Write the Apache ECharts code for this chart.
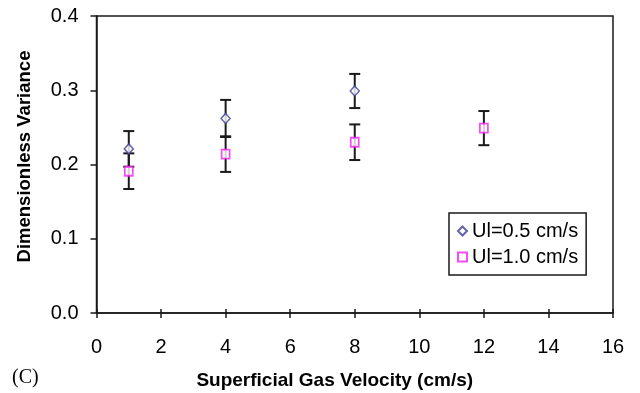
<!DOCTYPE html>
<html>
<head>
<meta charset="utf-8">
<script src="https://cdn.jsdelivr.net/npm/echarts@6/dist/echarts.min.js"></script>
<style>
  html, body { margin: 0; padding: 0; background: #fff; }
  #chart { width: 640px; height: 393px; }
</style>
</head>
<body>
<div id="chart"></div>
<script>
// Dimensionless variance vs superficial gas velocity, two liquid velocities
const seriesNames = ['Ul=0.5 cm/s', 'Ul=1.0 cm/s'];

const velocityLow = [1, 4, 8];
const varianceLow = [0.221, 0.262, 0.299];
const errorLow = [0.024, 0.025, 0.023];

const velocityHigh = [1, 4, 8, 12];
const varianceHigh = [0.191, 0.214, 0.230, 0.249];
const errorHigh = [0.024, 0.024, 0.024, 0.023];

const yTickLabels = ['0.0', '0.1', '0.2', '0.3', '0.4'];

const FONT = '"Liberation Sans", Arial, sans-serif';
const INK = '#1a1a1a';

const chart = echarts.init(document.getElementById('chart'), null, { renderer: 'canvas' });

function points(xs, ys, errs) {
  return xs.map((x, i) => errs ? [x, ys[i], errs[i]] : [x, ys[i]]);
}

// vertical error bar with short caps at both ends
function errorBar(params, api) {
  const x = api.value(0), y = api.value(1), e = api.value(2);
  const top = api.coord([x, y + e]);
  const bot = api.coord([x, y - e]);
  const hw = 5.5;
  const style = { stroke: INK, lineWidth: 2 };
  return {
    type: 'group',
    children: [
      { type: 'line', shape: { x1: top[0], y1: top[1], x2: bot[0], y2: bot[1] }, style },
      { type: 'line', shape: { x1: top[0] - hw, y1: top[1], x2: top[0] + hw, y2: top[1] }, style },
      { type: 'line', shape: { x1: bot[0] - hw, y1: bot[1], x2: bot[0] + hw, y2: bot[1] }, style }
    ]
  };
}

const xBase = { type: 'value', min: 0, max: 16, interval: 2, splitLine: { show: false } };

chart.setOption({
  animation: false,
  backgroundColor: '#fff',
  grid: {
    left: 96.5, right: 27, top: 16, bottom: 80,
    outerBoundsMode: 'none',
    containLabel: false,
    show: true, borderColor: INK, borderWidth: 1.5, backgroundColor: 'transparent'
  },
  xAxis: [
    Object.assign({}, xBase, {
      name: 'Superficial Gas Velocity (cm/s)',
      nameLocation: 'middle',
      nameGap: 58,
      nameTextStyle: {
        fontFamily: FONT, fontSize: 19, fontWeight: 'bold', color: '#000',
        padding: [0, 40, 0, 0]
      },
      axisLine: { show: true, lineStyle: { color: INK, width: 1.5 } },
      axisTick: { show: true, inside: false, length: 5, lineStyle: { color: INK, width: 1.5 } },
      axisLabel: { fontFamily: FONT, fontSize: 20, color: '#000', margin: 24 }
    }),
    Object.assign({}, xBase, {
      position: 'bottom',
      axisLine: { show: false },
      axisTick: { show: true, inside: true, length: 4, lineStyle: { color: INK, width: 1.5 } },
      axisLabel: { show: false }
    })
  ],
  yAxis: {
    type: 'value', min: 0, max: 0.4, interval: 0.1,
    name: 'Dimensionless Variance',
    nameLocation: 'middle',
    nameGap: 62,
    nameTextStyle: {
      fontFamily: FONT, fontSize: 18.5, fontWeight: 'bold', color: '#000',
      padding: [0, 0, 0, 16]
    },
    splitLine: { show: false },
    axisLine: { show: true, lineStyle: { color: INK, width: 1.5 } },
    axisTick: { show: true, inside: false, length: 6, lineStyle: { color: INK, width: 1.5 } },
    axisLabel: {
      fontFamily: FONT, fontSize: 20, color: '#000', margin: 18,
      formatter: (v) => yTickLabels[Math.round(v * 10)]
    }
  },
  legend: {
    data: seriesNames,
    orient: 'vertical',
    left: 449, top: 213,
    padding: [8, 8, 8, 8],
    itemGap: 6,
    itemWidth: 9, itemHeight: 9,
    borderColor: INK, borderWidth: 1.5,
    backgroundColor: '#fff',
    textStyle: { fontFamily: FONT, fontSize: 20, color: '#000' }
  },
  graphic: [
    {
      type: 'text', left: 12, top: 368,
      style: { text: '(C)', fontFamily: '"Liberation Serif", "Times New Roman", serif', fontSize: 20, fill: '#000' }
    }
  ],
  series: [
    {
      type: 'custom', name: 'err-low', renderItem: errorBar, z: 2,
      data: points(velocityLow, varianceLow, errorLow)
    },
    {
      type: 'custom', name: 'err-high', renderItem: errorBar, z: 2,
      data: points(velocityHigh, varianceHigh, errorHigh)
    },
    {
      type: 'scatter', name: seriesNames[0], symbol: 'diamond', symbolSize: [9, 10], z: 5,
      itemStyle: { color: '#fff', borderColor: '#3c3c96', borderWidth: 1.5 },
      data: points(velocityLow, varianceLow)
    },
    {
      type: 'scatter', name: seriesNames[1], symbol: 'rect', symbolSize: [8, 9], z: 5,
      itemStyle: { color: '#fff', borderColor: '#f020f0', borderWidth: 1.8 },
      data: points(velocityHigh, varianceHigh)
    }
  ]
});
</script>
</body>
</html>
